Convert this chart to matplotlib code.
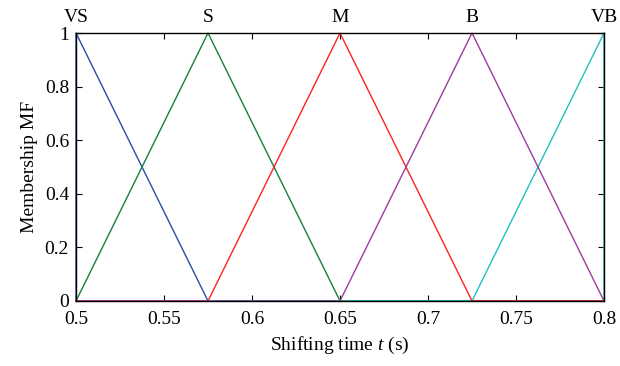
import numpy as np
import matplotlib.pyplot as plt

plt.rcParams['font.family'] = ['Liberation Serif', 'DejaVu Serif']
plt.rcParams['mathtext.fontset'] = 'custom'
plt.rcParams['mathtext.it'] = 'Liberation Serif:italic'

# membership function parameters (left foot, peak, right foot)
labels = ['VS', 'S', 'M', 'B', 'VB']
peaks = [0.5, 0.575, 0.65, 0.725, 0.8]
feet_left = [0.5, 0.5, 0.575, 0.65, 0.725]
feet_right = [0.575, 0.65, 0.725, 0.8, 0.8]
colors = ['#2a4caa', '#15803c', '#ff2222', '#9a3d9e', '#22bfc0']
draw_order = [0, 1, 4, 2, 3]

x_ticks = [0.5, 0.55, 0.6, 0.65, 0.7, 0.75, 0.8]
x_tick_labels = ['0.5', '0.55', '0.6', '0.65', '0.7', '0.75', '0.8']
y_ticks = [0, 0.2, 0.4, 0.6, 0.8, 1]
y_tick_labels = ['0', '0.2', '0.4', '0.6', '0.8', '1']

fig = plt.figure(figsize=(6.2, 3.66), dpi=100)
ax = fig.add_axes([0.1226, 0.1776, 0.8516, 0.7322])

for i in draw_order:
    xs = [0.5, feet_left[i], peaks[i], feet_right[i], 0.8]
    ys = [0, 0, 1, 0, 0]
    if peaks[i] == 0.5:
        ys[1] = 1
    if peaks[i] == 0.8:
        ys[3] = 1
    ax.plot(xs, ys, color=colors[i], linewidth=1.0, clip_on=False)

ax.set_xlim(0.5, 0.8)
ax.set_ylim(0, 1)
ax.set_xticks(x_ticks)
ax.set_xticklabels(x_tick_labels)
ax.set_yticks(y_ticks)
ax.set_yticklabels(y_tick_labels)
ax.tick_params(direction='in', length=4, width=0.8, labelsize=14,
               top=True, right=True)
ax.tick_params(axis='x', pad=7)
ax.tick_params(axis='y', pad=5)
for s in ax.spines.values():
    s.set_linewidth(1.0)

for lab, p in zip(labels, peaks):
    ax.text(p, 1.025, lab, ha='center', va='bottom', fontsize=14,
            transform=ax.get_xaxis_transform())

ax.set_xlabel('Shifting time $t$ (s)', fontsize=14, labelpad=5)
ax.set_ylabel('Membership MF', fontsize=14, labelpad=5)

fig.savefig('out.png', dpi=100)
